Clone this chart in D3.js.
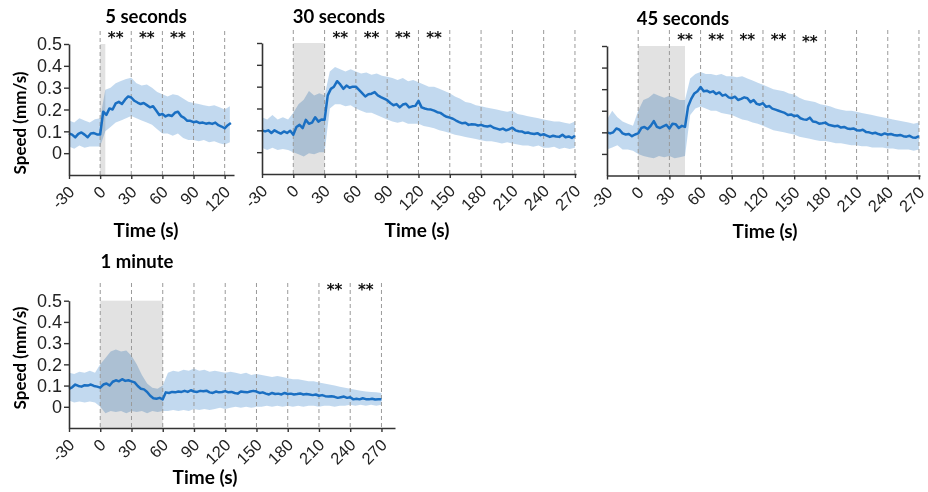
<!DOCTYPE html>
<html>
<head>
<meta charset="utf-8">
<script src="https://cdn.jsdelivr.net/npm/d3@7"></script>
<style>
  body { margin: 0; background: #fff; }
  svg { display: block; font-family: Lato, 'Open Sans', sans-serif; }
</style>
</head>
<body>
<div id="chart-area"></div>
<script>
// mean speed, sampled every 3 s from -30 s
const mean5s = [0.09,0.085,0.072,0.088,0.095,0.085,0.073,0.09,0.092,0.086,0.085,0.19,0.175,0.205,0.2,0.228,0.235,0.225,0.245,0.26,0.255,0.24,0.232,0.225,0.23,0.22,0.21,0.215,0.195,0.175,0.18,0.168,0.175,0.17,0.185,0.19,0.17,0.162,0.148,0.148,0.142,0.145,0.138,0.14,0.135,0.138,0.134,0.14,0.128,0.122,0.114,0.128,0.138];
const mean30s = [0.1,0.095,0.1,0.088,0.1,0.092,0.085,0.095,0.088,0.098,0.08,0.115,0.125,0.11,0.148,0.13,0.135,0.16,0.14,0.15,0.148,0.26,0.29,0.3,0.325,0.31,0.29,0.305,0.295,0.3,0.3,0.285,0.27,0.255,0.265,0.268,0.275,0.26,0.252,0.245,0.238,0.225,0.215,0.22,0.205,0.218,0.222,0.205,0.21,0.212,0.235,0.205,0.2,0.196,0.195,0.19,0.183,0.18,0.17,0.162,0.158,0.153,0.145,0.138,0.132,0.135,0.125,0.128,0.127,0.122,0.125,0.12,0.118,0.121,0.112,0.108,0.103,0.108,0.1,0.105,0.112,0.1,0.096,0.095,0.088,0.09,0.085,0.083,0.087,0.078,0.082,0.076,0.07,0.075,0.072,0.07,0.08,0.068,0.072,0.065,0.075];
const mean45s = [0.1,0.095,0.1,0.118,0.112,0.095,0.09,0.092,0.082,0.09,0.095,0.12,0.125,0.115,0.13,0.152,0.125,0.12,0.128,0.135,0.118,0.14,0.138,0.12,0.13,0.125,0.22,0.255,0.28,0.29,0.31,0.29,0.293,0.285,0.29,0.278,0.285,0.27,0.275,0.262,0.258,0.265,0.25,0.255,0.262,0.258,0.24,0.25,0.232,0.228,0.235,0.218,0.222,0.21,0.205,0.2,0.195,0.19,0.18,0.183,0.175,0.178,0.165,0.16,0.158,0.168,0.15,0.148,0.14,0.142,0.145,0.135,0.132,0.128,0.13,0.122,0.125,0.118,0.115,0.118,0.11,0.108,0.112,0.102,0.1,0.095,0.098,0.092,0.088,0.095,0.09,0.092,0.088,0.085,0.088,0.082,0.08,0.084,0.076,0.075,0.082];
const mean1min = [0.085,0.092,0.105,0.098,0.095,0.102,0.1,0.105,0.098,0.095,0.09,0.105,0.11,0.1,0.118,0.125,0.12,0.13,0.122,0.125,0.12,0.115,0.098,0.085,0.082,0.07,0.052,0.04,0.038,0.042,0.035,0.068,0.065,0.07,0.068,0.072,0.07,0.075,0.07,0.078,0.072,0.07,0.075,0.073,0.076,0.068,0.065,0.072,0.068,0.07,0.074,0.068,0.07,0.065,0.062,0.072,0.07,0.068,0.072,0.075,0.072,0.065,0.068,0.062,0.058,0.065,0.06,0.062,0.058,0.065,0.06,0.062,0.058,0.06,0.063,0.058,0.06,0.058,0.055,0.058,0.052,0.055,0.05,0.048,0.05,0.047,0.042,0.045,0.048,0.042,0.045,0.035,0.038,0.035,0.04,0.036,0.035,0.038,0.034,0.035,0.036];

// shaded error band, sampled every 5 s from -30 s
const low5s = [0.03,0.02,0.035,0.025,0.03,0.03,0.03,0.1,0.12,0.14,0.15,0.16,0.17,0.16,0.15,0.14,0.13,0.11,0.09,0.09,0.08,0.09,0.07,0.06,0.06,0.055,0.06,0.05,0.055,0.045,0.04,0.05];
const high5s = [0.15,0.14,0.16,0.15,0.14,0.155,0.16,0.29,0.3,0.32,0.33,0.34,0.345,0.32,0.31,0.315,0.3,0.28,0.27,0.26,0.27,0.265,0.25,0.235,0.23,0.225,0.22,0.215,0.22,0.21,0.2,0.215];
const low30s = [0.02,0.01,0.02,0.01,0.015,0.01,0.0,-0.01,-0.02,-0.005,-0.01,0.0,0.0,0.2,0.22,0.22,0.21,0.215,0.2,0.19,0.18,0.18,0.17,0.16,0.15,0.14,0.135,0.14,0.13,0.13,0.13,0.12,0.115,0.11,0.1,0.095,0.088,0.08,0.075,0.07,0.065,0.06,0.055,0.05,0.05,0.045,0.04,0.045,0.04,0.035,0.03,0.03,0.025,0.03,0.02,0.02,0.025,0.015,0.02,0.015,0.02];
const high30s = [0.16,0.15,0.17,0.15,0.16,0.15,0.18,0.22,0.24,0.28,0.26,0.27,0.26,0.37,0.39,0.38,0.37,0.38,0.37,0.36,0.365,0.355,0.36,0.35,0.345,0.34,0.33,0.34,0.325,0.33,0.32,0.31,0.3,0.3,0.29,0.28,0.27,0.255,0.245,0.23,0.225,0.215,0.21,0.205,0.2,0.195,0.19,0.185,0.19,0.175,0.17,0.165,0.16,0.155,0.15,0.145,0.14,0.14,0.135,0.13,0.14];
const low45s = [0.02,0.03,0.04,0.02,0.02,0.015,0.0,-0.01,-0.015,-0.02,-0.01,-0.015,-0.01,-0.02,-0.015,-0.01,0.18,0.21,0.22,0.21,0.2,0.2,0.19,0.185,0.18,0.17,0.16,0.155,0.145,0.14,0.13,0.12,0.11,0.105,0.1,0.095,0.09,0.08,0.075,0.07,0.065,0.06,0.06,0.055,0.05,0.05,0.045,0.04,0.04,0.035,0.035,0.03,0.03,0.03,0.025,0.025,0.02,0.02,0.02,0.015,0.02];
const high45s = [0.16,0.2,0.17,0.15,0.14,0.13,0.2,0.25,0.26,0.28,0.27,0.26,0.27,0.26,0.25,0.25,0.35,0.37,0.38,0.37,0.37,0.365,0.37,0.36,0.36,0.355,0.36,0.35,0.34,0.33,0.32,0.31,0.3,0.295,0.29,0.28,0.275,0.26,0.25,0.245,0.24,0.23,0.225,0.22,0.21,0.205,0.2,0.2,0.195,0.19,0.185,0.18,0.175,0.17,0.165,0.16,0.155,0.15,0.145,0.14,0.145];
const low1min = [0.03,0.02,0.025,0.02,0.025,0.02,0.0,-0.03,-0.02,-0.025,-0.02,-0.03,-0.02,-0.025,-0.02,-0.03,-0.02,-0.025,-0.02,-0.02,-0.015,-0.02,-0.015,-0.02,-0.01,-0.015,-0.01,-0.015,-0.01,-0.005,-0.01,-0.005,0.0,-0.005,0.0,-0.005,0.0,0.0,0.005,0.0,0.005,0.0,0.005,0.0,0.005,0.0,0.005,0.005,0.0,0.005,0.005,0.0,0.005,0.005,0.01,0.005,0.01,0.005,0.01,0.005,0.01];
const high1min = [0.16,0.155,0.165,0.16,0.17,0.16,0.2,0.23,0.26,0.27,0.26,0.265,0.24,0.2,0.15,0.11,0.09,0.085,0.1,0.16,0.17,0.165,0.175,0.17,0.18,0.17,0.175,0.165,0.17,0.165,0.16,0.165,0.16,0.155,0.16,0.15,0.155,0.15,0.145,0.14,0.145,0.14,0.135,0.13,0.13,0.125,0.12,0.12,0.115,0.11,0.105,0.1,0.095,0.09,0.085,0.08,0.075,0.072,0.07,0.068,0.065];

const titles = ['5 seconds', '30 seconds', '45 seconds', '1 minute'];
const stimDurations = [5, 30, 45, 60];
const starTimes = [[15, 45, 75], [45, 75, 105, 135], [45, 75, 105, 135, 165], [225, 255]];
const ticks5s = [-30, 0, 30, 60, 90, 120];
const ticksLong = [-30, 0, 30, 60, 90, 120, 150, 180, 210, 240, 270];
const yTicks = [0, 0.1, 0.2, 0.3, 0.4, 0.5];

const meanStart = -30, meanStep = 3, bandStart = -30, bandStep = 5;

// layout of each panel on the page
const panels = [
  { mean: mean5s, low: low5s, high: high5s, xDomain: [-30, 129], xRange: [69, 234], yRange: [175, 44],
    ticks: ticks5s, gridTop: 31, showY: true, titleX: 146, titleY: 23, starY: 43, timeX: 146, timeY: 237, ylabY: 123 },
  { mean: mean30s, low: low30s, high: high30s, xDomain: [-30, 271], xRange: [262, 576], yRange: [174, 43],
    ticks: ticksLong, gridTop: 30, showY: false, titleX: 339, titleY: 23, starY: 43, timeX: 417, timeY: 237 },
  { mean: mean45s, low: low45s, high: high45s, xDomain: [-30, 271], xRange: [607, 920], yRange: [175.5, 46],
    ticks: ticksLong, gridTop: 30, showY: false, titleX: 683, titleY: 25, starY: 45, timeX: 765, timeY: 238 },
  { mean: mean1min, low: low1min, high: high1min, xDomain: [-30, 283], xRange: [69, 395], yRange: [428, 300.7],
    ticks: ticksLong, gridTop: 283, showY: true, titleX: 137, titleY: 268, starY: 295, timeX: 205, timeY: 484, ylabY: 358 }
];

const width = 928, height = 492;
const svg = d3.select('#chart-area').append('svg').attr('width', width).attr('height', height);

panels.forEach((p, k) => {
  const x = d3.scaleLinear().domain(p.xDomain).range(p.xRange);
  const y = d3.scaleLinear().domain([-0.1, 0.5]).range(p.yRange);
  const g = svg.append('g');

  const meanPts = p.mean.map((v, i) => ({ t: meanStart + i * meanStep, v }));
  const bandPts = p.low.map((v, i) => ({ t: bandStart + i * bandStep, lo: v, hi: p.high[i] }));

  // error band
  g.append('path')
    .datum(bandPts)
    .attr('fill', '#7fb0dd')
    .attr('fill-opacity', 0.48)
    .attr('d', d3.area().x((d) => x(d.t)).y0((d) => y(d.lo)).y1((d) => y(d.hi)));

  // stimulus period
  g.append('rect')
    .attr('x', x(0))
    .attr('y', y(0.5))
    .attr('width', x(stimDurations[k]) - x(0))
    .attr('height', y(-0.1) - y(0.5))
    .attr('fill', '#e2e2e2')
    .style('mix-blend-mode', 'multiply');

  // dashed time markers
  g.selectAll('line.grid')
    .data(p.ticks.filter((t) => t >= 0))
    .enter()
    .append('line')
    .attr('class', 'grid')
    .attr('x1', (d) => x(d))
    .attr('x2', (d) => x(d))
    .attr('y1', p.gridTop)
    .attr('y2', y(-0.1))
    .attr('stroke', '#9a9a9a')
    .attr('stroke-width', 1)
    .attr('stroke-dasharray', '4,3');

  // mean line
  g.append('path')
    .datum(meanPts)
    .attr('fill', 'none')
    .attr('stroke', '#1a6fc2')
    .attr('stroke-width', 2.5)
    .attr('stroke-linejoin', 'round')
    .attr('d', d3.line().x((d) => x(d.t)).y((d) => y(d.v)));

  // axes
  const xAxis = g.append('g')
    .attr('transform', `translate(0,${y(-0.1)})`)
    .call(d3.axisBottom(x).tickValues(p.ticks).tickSize(4).tickSizeOuter(0).tickFormat((d) => String(d)));
  xAxis.select('.domain').attr('stroke', '#333').attr('stroke-width', 1.6);
  xAxis.selectAll('.tick line').attr('stroke', '#333').attr('stroke-width', 1.4);
  xAxis.selectAll('.tick text')
    .attr('font-size', 16.5)
    .attr('fill', '#222')
    .attr('text-anchor', 'end')
    .attr('dx', 0)
    .attr('dy', 0)
    .attr('y', 0)
    .attr('transform', 'translate(6,18) rotate(-45)');

  const yAxis = g.append('g')
    .attr('transform', `translate(${x(-30)},0)`)
    .call(d3.axisLeft(y).tickValues(yTicks).tickSize(5).tickSizeOuter(0).tickFormat((d) => (d === 0 ? '0' : d3.format('.1f')(d))));
  yAxis.select('.domain').attr('stroke', '#333').attr('stroke-width', 1.6);
  yAxis.selectAll('.tick line').attr('stroke', '#333').attr('stroke-width', 1.4);
  yAxis.selectAll('.tick text')
    .attr('font-size', 18)
    .attr('fill', '#222')
    .attr('x', -7)
    .style('display', p.showY ? null : 'none');

  // significance stars
  g.selectAll('text.star')
    .data(starTimes[k])
    .enter()
    .append('text')
    .attr('class', 'star')
    .attr('x', (d) => x(d))
    .attr('y', (d) => (k === 2 && d === 165 ? p.starY + 2 : p.starY))
    .attr('text-anchor', 'middle')
    .attr('font-family', "'DejaVu Sans', sans-serif")
    .attr('font-size', 15)
    .attr('font-weight', 'bold')
    .attr('fill', '#111')
    .text('**');

  g.append('text')
    .attr('x', p.titleX)
    .attr('y', p.titleY)
    .attr('text-anchor', 'middle')
    .attr('font-size', 18.5)
    .attr('font-weight', 'bold')
    .text(titles[k]);

  g.append('text')
    .attr('x', p.timeX)
    .attr('y', p.timeY)
    .attr('text-anchor', 'middle')
    .attr('font-size', 19)
    .attr('font-weight', 'bold')
    .text('Time (s)');

  if (p.showY) {
    g.append('text')
      .attr('transform', `translate(26,${p.ylabY}) rotate(-90)`)
      .attr('text-anchor', 'middle')
      .attr('font-size', 17)
      .attr('font-weight', 'bold')
      .text('Speed (mm/s)');
  }
});
</script>
</body>
</html>
